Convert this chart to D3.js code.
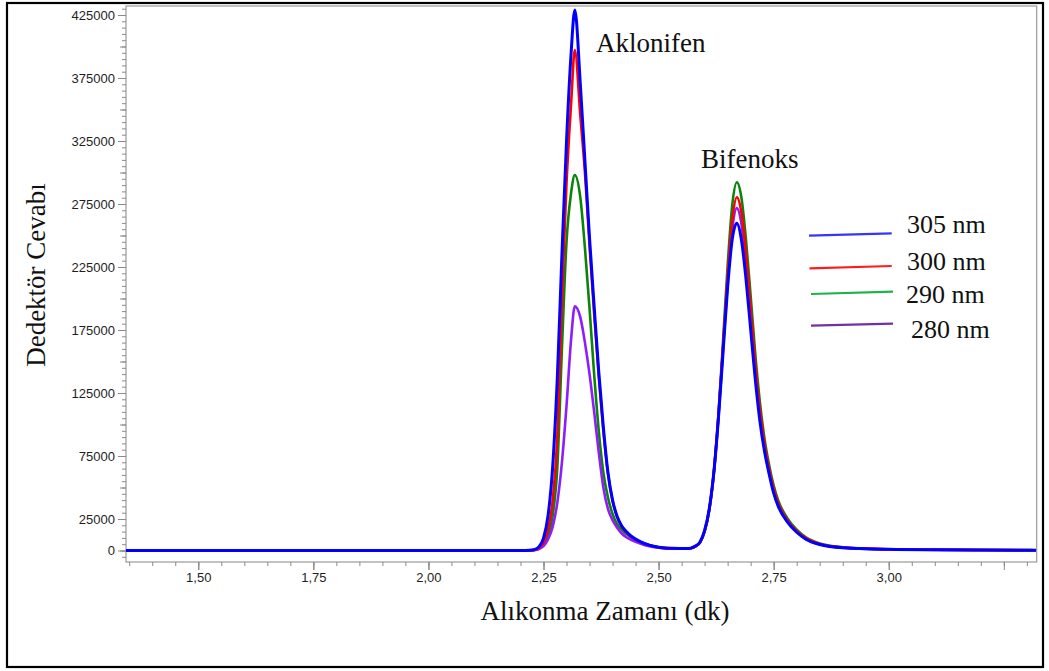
<!DOCTYPE html>
<html>
<head>
<meta charset="utf-8">
<script src="https://cdn.jsdelivr.net/npm/d3@7"></script>
<style>
  html, body { margin: 0; padding: 0; background: #ffffff; }
  svg { display: block; }
</style>
</head>
<body>
<svg id="chart" width="1049" height="671"></svg>
<script>
// Retention time (min) of each sample point of the chromatograms
const times = [1.34, 1.50, 1.75, 2.00, 2.10, 2.20, 2.22, 2.23, 2.24, 2.25, 2.26, 2.27, 2.28, 2.29, 2.30, 2.31, 2.318,
  2.33, 2.34, 2.35, 2.36, 2.37, 2.38, 2.39, 2.40, 2.41, 2.42, 2.43, 2.44, 2.46, 2.48, 2.50, 2.53, 2.56, 2.57, 2.58,
  2.59, 2.60, 2.61, 2.62, 2.63, 2.64, 2.65, 2.66, 2.67, 2.68, 2.69, 2.70, 2.71, 2.72, 2.73, 2.74, 2.75, 2.76, 2.78,
  2.80, 2.82, 2.85, 2.90, 3.00, 3.10, 3.20, 3.32];

// Detector response at each wavelength
const signal305 = [0, 0, 0, 0, 0, 0, 200, 700, 2900, 9800, 28000, 67000, 137000, 235000, 325000, 395000, 429000,
  370000, 309000, 248000, 194000, 142000, 98000, 62000, 40000, 27000, 19500, 15000, 11500, 7000, 4200, 2600, 1700,
  1500, 1900, 3500, 6800, 15900, 33000, 62000, 105000, 157000, 209000, 247000, 259800, 246500, 215000, 175500,
  136000, 103000, 79000, 61000, 45500, 35000, 22500, 14500, 9000, 4800, 2200, 900, 500, 300, 200];
const signal300 = [0, 0, 0, 0, 0, 0, 150, 500, 2000, 6500, 17000, 40000, 90000, 200000, 292000, 355000, 397200,
  345000, 300000, 242000, 188000, 138000, 95000, 61000, 39500, 26500, 19000, 14500, 11000, 6800, 4100, 2500, 1700,
  1500, 1800, 3300, 6500, 15500, 32500, 62000, 107000, 162000, 218000, 262000, 280400, 268000, 235000, 192000,
  148000, 112000, 85000, 65000, 49000, 37500, 24000, 15500, 9800, 5200, 2400, 1000, 550, 350, 250];
const signal290 = [0, 0, 0, 0, 0, 0, 100, 400, 1500, 4500, 12000, 28000, 66000, 160000, 245000, 284000, 297900,
  280000, 240000, 192000, 140000, 95000, 62000, 42000, 29000, 21000, 16500, 13000, 10500, 6800, 4200, 2600, 1700,
  1500, 1800, 3200, 6200, 15000, 32000, 62000, 108000, 166000, 226000, 274000, 292300, 280000, 246000, 202000,
  156000, 118000, 89000, 68000, 51500, 39500, 25500, 16500, 10500, 5600, 2600, 1000, 600, 400, 250];
const signal280 = [0, 0, 0, 0, 0, 0, 100, 300, 1200, 3500, 9000, 19000, 38000, 70000, 115000, 168000, 193800,
  185000, 165000, 140000, 110000, 78000, 50000, 33000, 24000, 18000, 13500, 10500, 8500, 5500, 3300, 2200, 1500,
  1400, 1800, 3300, 6400, 15300, 32000, 61000, 105000, 160000, 213000, 255000, 271700, 259000, 226000, 184000,
  142000, 107000, 81000, 62500, 47000, 36000, 23000, 15000, 9300, 5000, 2300, 900, 500, 300, 200];

const seriesLabels = ["305 nm", "300 nm", "290 nm", "280 nm"];
const xTickValues = [1.50, 1.75, 2.00, 2.25, 2.50, 2.75, 3.00];
const xTickLabels = ["1,50", "1,75", "2,00", "2,25", "2,50", "2,75", "3,00"];
const yTickValues = [0, 25000, 75000, 125000, 175000, 225000, 275000, 325000, 375000, 425000];
const peakNames = ["Aklonifen", "Bifenoks"];
const xTitle = "Alıkonma Zamanı (dk)";
const yTitle = "Dedektör Cevabı";

const svg = d3.select("#chart");
const W = 1049, H = 671;
const plot = { left: 126, right: 1036.7, top: 6, bottom: 562 };

const x = d3.scaleLinear().domain([1.343, 3.3214]).range([plot.left, plot.right]);
const y = d3.scaleLinear().domain([0, 425000]).range([550.5, 15]);
const yMin = y.invert(plot.bottom), yMax = y.invert(plot.top);

svg.append("rect").attr("width", W).attr("height", H).attr("fill", "#fff");

// outer frame
svg.append("rect")
  .attr("x", 7).attr("y", 3).attr("width", 1036).attr("height", 664)
  .attr("fill", "none").attr("stroke", "#000").attr("stroke-width", 2.2);

// plot frame
svg.append("rect")
  .attr("x", plot.left).attr("y", plot.top)
  .attr("width", plot.right - plot.left).attr("height", plot.bottom - plot.top)
  .attr("fill", "none").attr("stroke", "#9a9a9a").attr("stroke-width", 1.2);

const fontSans = "'Liberation Sans', Arial, sans-serif";
const fontSerif = "'Liberation Serif', 'Times New Roman', serif";

// y axis: minor, mid and labelled ticks
function styleAxis(g) {
  g.select(".domain").remove();
  g.selectAll(".tick line").attr("stroke", "#8a8a8a").attr("stroke-width", 1);
  g.selectAll(".tick text").attr("fill", "#1e1e1e").style("font-family", fontSans).style("font-size", "13px");
}
const yMinor = d3.range(-5000, yMax, 5000);
const yMid = d3.range(0, yMax, 25000);
svg.append("g").attr("transform", `translate(${plot.left},0)`)
  .call(d3.axisLeft(y).tickValues(yMinor).tickSize(4).tickFormat(""))
  .call(styleAxis);
svg.append("g").attr("transform", `translate(${plot.left},0)`)
  .call(d3.axisLeft(y).tickValues(yMid).tickSize(6).tickFormat(""))
  .call(styleAxis);
svg.append("g").attr("transform", `translate(${plot.left},0)`)
  .call(d3.axisLeft(y).tickValues(yTickValues).tickSize(8).tickPadding(3).tickFormat(d3.format("d")))
  .call(styleAxis);

// x axis
const xMinor = d3.range(1.35, 3.32, 0.05);
const xMajor = d3.range(1.50, 3.32, 0.25);
svg.append("g").attr("transform", `translate(0,${plot.bottom})`)
  .call(d3.axisBottom(x).tickValues(xMinor).tickSize(4).tickFormat(""))
  .call(styleAxis);
svg.append("g").attr("transform", `translate(0,${plot.bottom})`)
  .call(d3.axisBottom(x).tickValues(xMajor).tickSize(8).tickFormat(""))
  .call(styleAxis);
svg.append("g").attr("transform", `translate(0,${plot.bottom})`)
  .call(d3.axisBottom(x).tickValues(xTickValues).tickSize(8).tickPadding(3)
    .tickFormat((d, i) => xTickLabels[i]))
  .call(styleAxis);

// chromatograms
svg.append("defs").append("clipPath").attr("id", "plotClip")
  .append("rect").attr("x", plot.left).attr("y", plot.top)
  .attr("width", plot.right - plot.left).attr("height", plot.bottom - plot.top);

const series = [
  { label: seriesLabels[2], values: signal290, color: "#0a850a", width: 2.6 },
  { label: seriesLabels[3], values: signal280, color: "#8f1cff", width: 2.6 },
  { label: seriesLabels[1], values: signal300, color: "#ff0000", width: 2.6 },
  { label: seriesLabels[0], values: signal305, color: "#0000ff", width: 3.0 }
];
const line = d3.line()
  .x((d, i) => x(times[i]))
  .y(d => y(d))
  .curve(d3.curveMonotoneX);
const lines = svg.append("g").attr("clip-path", "url(#plotClip)");
series.forEach(s => {
  lines.append("path").datum(s.values)
    .attr("d", line)
    .attr("fill", "none")
    .attr("stroke", s.color)
    .attr("stroke-width", s.width)
    .attr("stroke-linejoin", "round");
});

// peak labels
svg.append("text").attr("x", 596).attr("y", 52).text(peakNames[0])
  .style("font-family", fontSerif).style("font-size", "27px").attr("fill", "#111");
svg.append("text").attr("x", 701).attr("y", 168).text(peakNames[1])
  .style("font-family", fontSerif).style("font-size", "27px").attr("fill", "#111");

// legend
const legend = [
  { label: seriesLabels[0], color: "#3535ff", x1: 809, y1: 235.7, x2: 891.7, y2: 233.3, tx: 907, ty: 233 },
  { label: seriesLabels[1], color: "#ff1c1c", x1: 809.5, y1: 268.3, x2: 891.7, y2: 266, tx: 907, ty: 270 },
  { label: seriesLabels[2], color: "#1fb24a", x1: 811, y1: 294, x2: 893, y2: 291.7, tx: 906, ty: 303 },
  { label: seriesLabels[3], color: "#7030a8", x1: 811, y1: 325.7, x2: 893, y2: 323.7, tx: 911, ty: 338 }
];
const lg = svg.append("g");
legend.forEach(l => {
  lg.append("line").attr("x1", l.x1).attr("y1", l.y1).attr("x2", l.x2).attr("y2", l.y2)
    .attr("stroke", l.color).attr("stroke-width", 2.2);
  lg.append("text").attr("x", l.tx).attr("y", l.ty).text(l.label)
    .style("font-family", fontSerif).style("font-size", "26px").attr("fill", "#111");
});

// axis titles
svg.append("text").attr("x", 605).attr("y", 620).attr("text-anchor", "middle").text(xTitle)
  .style("font-family", fontSerif).style("font-size", "27px").attr("fill", "#111");
svg.append("text").attr("transform", "translate(45,275) rotate(-90)").attr("text-anchor", "middle").text(yTitle)
  .style("font-family", fontSerif).style("font-size", "27px").attr("fill", "#111");
</script>
</body>
</html>
